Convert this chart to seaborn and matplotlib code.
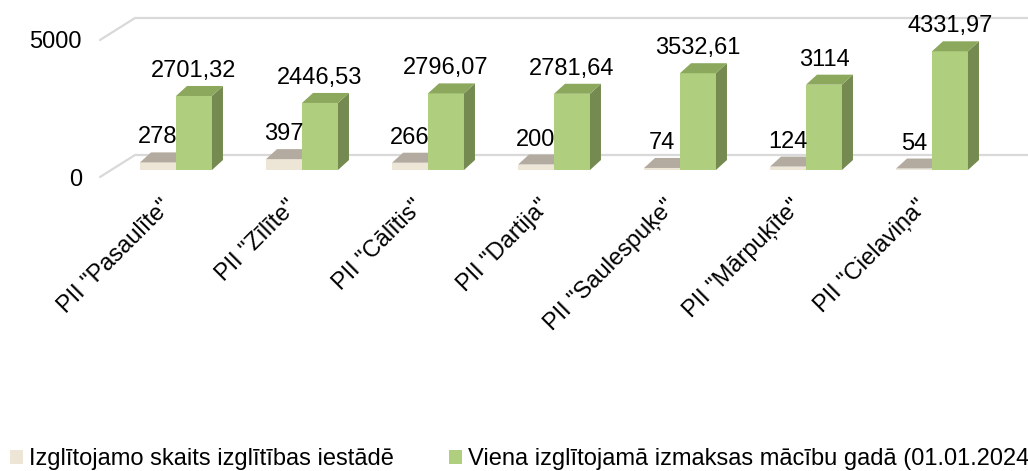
import pandas as pd
import matplotlib.pyplot as plt
import matplotlib.transforms as mtransforms
import seaborn as sns
from matplotlib.patches import Polygon, Patch

# ---------------------------------------------------------
# DATA
# ---------------------------------------------------------
schools = ['PII "Pasaulīte"', 'PII "Zīlīte"', 'PII "Cālītis"', 'PII "Dartija"',
           'PII "Saulespuķe"', 'PII "Mārpuķīte"', 'PII "Cielaviņa"']
pupils = [278, 397, 266, 200, 74, 124, 54]
cost_per_pupil = [2701.32, 2446.53, 2796.07, 2781.64, 3532.61, 3114, 4331.97]
y_ticks = [0, 5000]

series_names = ['Izglītojamo skaits izglītības iestādē',
                'Viena izglītojamā izmaksas mācību gadā (01.01.2024']

df = pd.DataFrame({
    'school': schools * 2,
    'value': pupils + cost_per_pupil,
    'series': [series_names[0]] * len(schools) + [series_names[1]] * len(schools),
})

# ---------------------------------------------------------
# STYLE
# ---------------------------------------------------------
sns.set_style("white")
plt.rcParams['font.family'] = ['Liberation Sans', 'DejaVu Sans']
plt.rcParams['text.color'] = 'black'
plt.rcParams['xtick.color'] = 'black'
plt.rcParams['ytick.color'] = 'black'

front = {series_names[0]: '#EDE6D7', series_names[1]: '#AFCF7E'}
top_c = {series_names[0]: '#B3AB9F', series_names[1]: '#8BA85C'}
side_c = {series_names[0]: '#CFC7B8', series_names[1]: '#758A50'}

PX_Y = 5000 / 137      # data units per pixel (vertical)
PX_X = 1 / 126         # data units per pixel (horizontal)
DX, DY = 11 * PX_X, 10 * PX_Y   # bar depth
FS = 17

fig = plt.figure(figsize=(10.28, 4.71), dpi=100)
ax = fig.add_axes([100 / 1028, (471 - 177) / 471, 928 / 1028, 172 / 471])

sns.barplot(data=df, x='school', y='value', hue='series', palette=front,
            width=0.571, saturation=1, ax=ax, legend=False, linewidth=0)

ax.set_xlim((100 - 176) * PX_X, (1028 - 176) * PX_X)
ax.set_ylim(-7 * PX_Y, 165 * PX_Y)

# ---------------------------------------------------------
# fake 3D: back wall gridlines
# ---------------------------------------------------------
x_left = ax.get_xlim()[0]
x_back = x_left + 35 * PX_X
for v in y_ticks:
    yb = v + 15 * PX_Y
    yf = v - 7 * PX_Y
    ax.plot([x_left, x_back, ax.get_xlim()[1]], [yf, yb, yb], color='#D9D9D9',
            lw=1.6, zorder=0.5, clip_on=False)

# side + top faces for every bar
for i, bar in enumerate(ax.patches):
    s = series_names[0] if i < len(schools) else series_names[1]
    z = 2 if s == series_names[0] else 3
    bar.set_zorder(z)
    x, w, h = bar.get_x(), bar.get_width(), bar.get_height()
    side = Polygon([(x + w, 0), (x + w + DX, DY), (x + w + DX, h + DY), (x + w, h)],
                   closed=True, fc=side_c[s], ec='none', zorder=z + 0.5)
    top = Polygon([(x, h), (x + DX, h + DY), (x + w + DX, h + DY), (x + w, h)],
                  closed=True, fc=top_c[s], ec='none', zorder=z + 0.5)
    ax.add_patch(side)
    ax.add_patch(top)
    if isinstance(df['value'].iloc[i], float) and df['value'].iloc[i] % 1:
        lbl = f"{df['value'].iloc[i]:.2f}".replace('.', ',')
    else:
        lbl = f"{int(df['value'].iloc[i])}"
    ax.text(x + w / 2, h + 25 * PX_Y, lbl, ha='center', va='center',
            fontsize=FS, color='black', zorder=5)

# axes cosmetics
sns.despine(ax=ax, left=True, bottom=True)
ax.set_xlabel('')
ax.set_ylabel('')
ax.set_yticks([v - 7 * PX_Y for v in y_ticks])
ax.set_yticklabels([str(v) for v in y_ticks], fontsize=FS)
ax.tick_params(axis='y', length=0, pad=13)
ax.set_xticks(range(len(schools)))
ax.set_xticklabels(schools, rotation=45, ha='right', va='center',
                   rotation_mode='anchor', fontsize=FS)
ax.tick_params(axis='x', length=0, pad=19)
shift = mtransforms.ScaledTranslation(-8 / 100, 0, fig.dpi_scale_trans)
for t in ax.get_xticklabels():
    t.set_transform(t.get_transform() + shift)

# legend
handles = [Patch(fc=front[s], ec='none') for s in series_names]
fig.legend(handles, series_names, loc='center left', bbox_to_anchor=(3 / 1028, 1 - 459 / 471),
           ncol=2, frameon=False, fontsize=FS, handlelength=0.55, handleheight=0.55,
           handletextpad=0.25, columnspacing=2.35, borderaxespad=0, borderpad=0.3)

plt.savefig('out.png', dpi=100)
